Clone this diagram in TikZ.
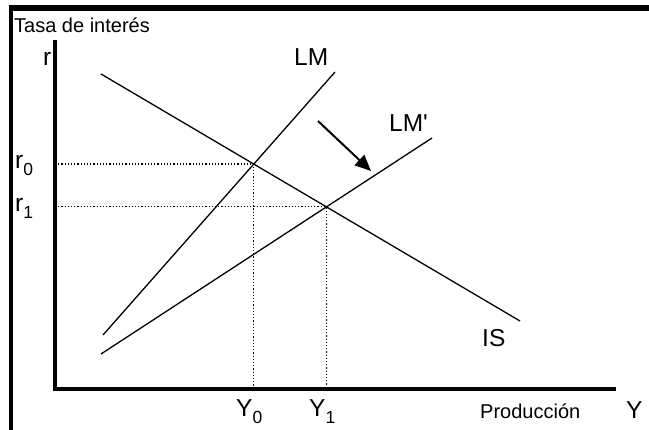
\documentclass[tikz,border=0pt]{standalone}
\usepackage{fontspec}
\setmainfont{Liberation Sans}
\usetikzlibrary{arrows.meta,intersections}
\newcommand\lsub[1]{\raisebox{-7pt}{\fontsize{17.5}{17.5}\selectfont #1}}
\begin{document}
\begin{tikzpicture}[x=1pt,y=-1pt,
  curve/.style={line width=1.3pt},
  guide/.style={line width=1.2pt, dash pattern=on 1.2pt off 2pt},
  axisline/.style={line width=4pt, line join=miter},
  lbl/.style={inner sep=0pt, anchor=base west, font=\fontsize{24.5}{24.5}\selectfont},
  smalllbl/.style={inner sep=0pt, anchor=base west, font=\fontsize{20}{20}\selectfont},
  shift arrow/.style={line width=2pt, -{Triangle[length=16pt,width=14pt]}}]
\useasboundingbox (0,0) rectangle (649,430);
% frame
\fill (10,5) rectangle (649,11);
\fill (9,5) rectangle (13,430);
% coordinates
\coordinate (O) at (55,388.7);
\coordinate (ytop) at (55,40.5);
\coordinate (xend) at (616,388.7);
\coordinate (IS1) at (101,74);
\coordinate (IS2) at (520,321);
\coordinate (LM1) at (103,335);
\coordinate (LM2) at (335,72);
\coordinate (LMp1) at (101,354);
\coordinate (LMp2) at (432,138);
\coordinate (A1) at (318,121);
\coordinate (A2) at (371,171);
% curves
\draw[curve, name path=is] (IS1) -- (IS2);
\draw[curve, name path=lm] (LM1) -- (LM2);
\draw[curve, name path=lmp] (LMp1) -- (LMp2);
\path[name intersections={of=is and lm, by=E0}];
\path[name intersections={of=is and lmp, by=E1}];
% guides
\draw[guide] (E0 -| O) -- (E0) -- (E0 |- O);
\draw[guide] (E1 -| O) -- (E1) -- (E1 |- O);
% axes
\draw[axisline] (ytop) -- (O) -- (xend);
% shift arrow
\draw[shift arrow] (A1) -- (A2);
% labels
\node[smalllbl] (tasa) at (14,33) {Tasa de interés};
\node[lbl] (r) at (43,66) {r};
\node[lbl] (r0) at (15,169) {r\lsub{0}};
\node[lbl] (r1) at (15,212) {r\lsub{1}};
\node[lbl] (Y0) at (236,417) {Y\lsub{0}};
\node[lbl] (Y1) at (309,417) {Y\lsub{1}};
\node[smalllbl] (prod) at (480,419) {Producción};
\node[lbl] (Y) at (626,419) {Y};
\node[lbl] (lmlab) at (294,66) {LM};
\node[lbl] (lmplab) at (389,132) {LM\textquotesingle};
\node[lbl] (islab) at (482,347) {IS};
\end{tikzpicture}
\end{document}
